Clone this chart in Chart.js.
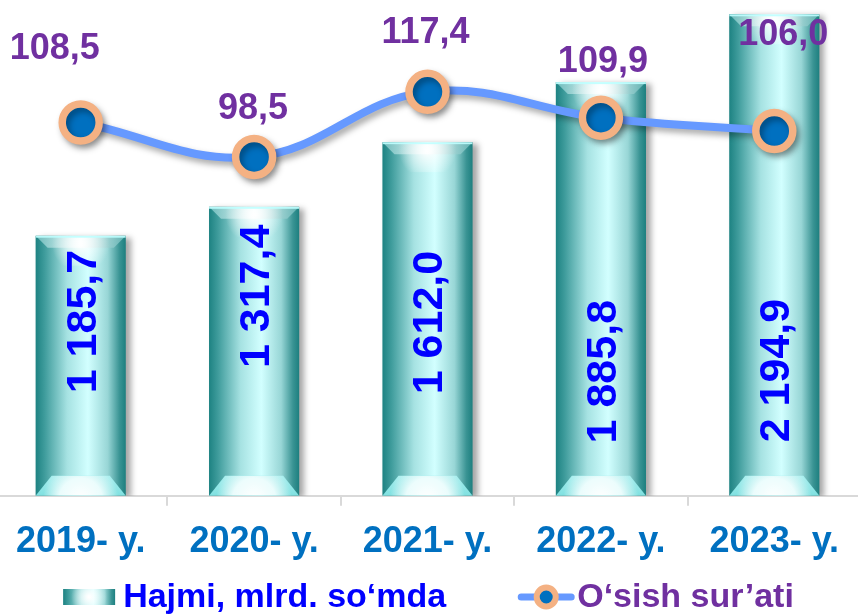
<!DOCTYPE html>
<html>
<head>
<meta charset="utf-8">
<script src="https://cdn.jsdelivr.net/npm/chart.js@4.4.1/dist/chart.umd.min.js"></script>
<style>
  html, body { margin: 0; padding: 0; background: #fff; overflow: hidden; }
  #wrap { position: relative; width: 867px; height: 614px; margin-left: -6px; }
</style>
</head>
<body>
<div id="wrap"><canvas id="myChart"></canvas></div>
<script>
'use strict';

// data
const years = ['2019- y.', '2020- y.', '2021- y.', '2022- y.', '2023- y.'];
const volume = [1185.7, 1317.4, 1612.0, 1885.8, 2194.9];
const growth = [108.5, 98.5, 117.4, 109.9, 106.0];
const seriesNames = ['Hajmi, mlrd. so‘mda', 'O‘sish sur’ati'];

// where the labels sit (style only)
const volLabelAt = [0.67, 0.69, 0.49, 0.30, 0.26]; // share of bar height, from base
const growthLabelShift = [[-26, -75], [-1, -50], [-2, -61], [2, -58], [9, -98]];

const FONT = 'Arial, "Liberation Sans", sans-serif';
const BAR_PCT = 0.52;

// 1185.7 -> "1 185,7"
function fmt(v) {
  const parts = v.toFixed(1).split('.');
  return parts[0].replace(/\B(?=(\d{3})+(?!\d))/g, ' ') + ',' + parts[1];
}

function tealGradient(ctx, l, r) {
  const g = ctx.createLinearGradient(l, 0, r, 0);
  g.addColorStop(0, '#1d8282');
  g.addColorStop(0.1, '#3f9c9c');
  g.addColorStop(0.35, '#a6e2e2');
  g.addColorStop(0.58, '#d2ffff');
  g.addColorStop(0.8, '#98d6d6');
  g.addColorStop(0.93, '#3a9494');
  g.addColorStop(1, '#1d7f7f');
  return g;
}

function barFill(c) {
  const x = c.chart.scales.x;
  if (!x || c.dataIndex === undefined) return '#8fd6d6';
  const cx = x.getPixelForValue(c.dataIndex);
  const w = (x.width / years.length) * BAR_PCT;
  if (!isFinite(cx) || !isFinite(w) || w <= 0) return '#8fd6d6';
  return tealGradient(c.chart.ctx, cx - w / 2, cx + w / 2);
}

// legend icons
function drawBarIcon(c, x, y) {
  c.save();
  c.fillStyle = tealGradient(c, x, x + 52);
  c.fillRect(x, y - 8, 52, 16);
  const rg = c.createRadialGradient(x + 26, y, 1, x + 26, y, 18);
  rg.addColorStop(0, 'rgba(255,255,255,1)');
  rg.addColorStop(1, 'rgba(255,255,255,0)');
  c.fillStyle = rg;
  c.fillRect(x, y - 8, 52, 16);
  c.restore();
}

function drawLineIcon(c, x, y) {
  c.save();
  c.strokeStyle = '#6699ff';
  c.lineWidth = 7;
  c.lineCap = 'round';
  c.beginPath(); c.moveTo(x + 4, y); c.lineTo(x + 54, y); c.stroke();
  c.beginPath(); c.arc(x + 29, y, 9.5, 0, Math.PI * 2);
  c.fillStyle = '#0070c0'; c.fill();
  c.lineWidth = 6; c.strokeStyle = '#f4b183'; c.stroke();
  c.restore();
}

const legendColors = ['#0000ff', '#7030a0'];

const decor = {
  id: 'decor',
  beforeDatasetDraw(chart, args) {
    const ctx = chart.ctx;
    ctx.save();
    ctx.shadowColor = 'rgba(0,0,0,0.35)';
    ctx.shadowBlur = 6;
    ctx.shadowOffsetX = args.index === 0 ? 5 : 3;
    ctx.shadowOffsetY = args.index === 0 ? 2 : 4;
  },
  afterDatasetDraw(chart, args) {
    const ctx = chart.ctx;
    ctx.restore();
    if (args.index !== 0) return;
    args.meta.data.forEach(el => {
      const p = el.getProps(['x', 'y', 'base', 'width'], true);
      if (![p.x, p.y, p.base, p.width].every(isFinite)) return;
      const l = p.x - p.width / 2, r = p.x + p.width / 2;

      ctx.save();
      ctx.beginPath();
      ctx.rect(l, p.y, p.width, p.base - p.y);
      ctx.clip();

      // top cap
      const th = 12;
      ctx.beginPath();
      ctx.moveTo(l, p.y); ctx.lineTo(r, p.y);
      ctx.lineTo(r - th, p.y + th); ctx.lineTo(l + th, p.y + th);
      ctx.closePath();
      const tg = ctx.createLinearGradient(l, 0, r, 0);
      tg.addColorStop(0, '#6cbaba');
      tg.addColorStop(0.5, '#f2ffff');
      tg.addColorStop(1, '#5fb0b0');
      ctx.fillStyle = tg;
      ctx.fill();
      let rg = ctx.createRadialGradient(p.x, p.y + 8, 1, p.x, p.y + 8, p.width * 0.32);
      rg.addColorStop(0, 'rgba(255,255,255,0.95)');
      rg.addColorStop(1, 'rgba(255,255,255,0)');
      ctx.fillStyle = rg;
      ctx.fillRect(l, p.y, p.width, 30);
      ctx.fillStyle = 'rgba(190,255,255,0.9)';
      ctx.fillRect(l, p.y, p.width, 2);

      // bottom cap
      const bh = 20;
      ctx.beginPath();
      ctx.moveTo(l, p.base); ctx.lineTo(r, p.base);
      ctx.lineTo(r - 16, p.base - bh); ctx.lineTo(l + 16, p.base - bh);
      ctx.closePath();
      const bg = ctx.createLinearGradient(0, p.base - bh, 0, p.base);
      bg.addColorStop(0, '#a8eeee');
      bg.addColorStop(1, '#7fe0e0');
      ctx.fillStyle = bg;
      ctx.fill();
      ctx.clip();
      rg = ctx.createRadialGradient(p.x, p.base + 4, 2, p.x, p.base + 4, p.width * 0.42);
      rg.addColorStop(0, 'rgba(255,255,255,1)');
      rg.addColorStop(0.55, 'rgba(245,255,255,0.9)');
      rg.addColorStop(1, 'rgba(255,255,255,0)');
      ctx.fillStyle = rg;
      ctx.fillRect(l, p.base - bh, p.width, bh);
      ctx.restore();
    });
  },
  afterDatasetsDraw(chart) {
    const ctx = chart.ctx;
    ctx.save();
    // bar values, turned up
    ctx.font = 'bold 43px ' + FONT;
    ctx.fillStyle = '#0000ff';
    ctx.textAlign = 'center';
    ctx.textBaseline = 'middle';
    chart.getDatasetMeta(0).data.forEach((el, i) => {
      const p = el.getProps(['x', 'y', 'base'], true);
      const cy = p.base - (p.base - p.y) * volLabelAt[i];
      ctx.save();
      ctx.translate(p.x + 1, cy);
      ctx.rotate(-Math.PI / 2);
      ctx.fillText(fmt(volume[i]), 0, 2);
      ctx.restore();
    });
    // growth values
    ctx.font = 'bold 36px ' + FONT;
    ctx.fillStyle = '#7030a0';
    chart.getDatasetMeta(1).data.forEach((el, i) => {
      const s = growthLabelShift[i];
      ctx.fillText(fmt(growth[i]), el.x + s[0], el.y + s[1] + 2);
    });
    ctx.restore();
  },
  afterDraw(chart) {
    // legend row under the axis
    const ctx = chart.ctx;
    ctx.save();
    ctx.font = 'bold 34px ' + FONT;
    ctx.textBaseline = 'middle';
    ctx.textAlign = 'left';
    const w1 = ctx.measureText(seriesNames[0]).width;
    const w2 = ctx.measureText(seriesNames[1]).width;
    const total = 52 + 8 + w1 + 71 + 58 + 2 + w2;
    let x = chart.width / 2 - total / 2 + 1;
    const y = 597;
    drawBarIcon(ctx, x, y);
    x += 60;
    ctx.fillStyle = legendColors[0];
    ctx.fillText(seriesNames[0], x, y + 1);
    x += w1 + 71;
    drawLineIcon(ctx, x, y);
    x += 60;
    ctx.fillStyle = legendColors[1];
    ctx.fillText(seriesNames[1], x, y + 1);
    ctx.restore();
  }
};

const ctx = document.getElementById('myChart').getContext('2d');

new Chart(ctx, {
  data: {
    labels: years,
    datasets: [
      {
        type: 'bar',
        label: seriesNames[0],
        data: volume,
        yAxisID: 'y',
        order: 1,
        backgroundColor: barFill,
        borderWidth: 0,
        barPercentage: BAR_PCT,
        categoryPercentage: 1
      },
      {
        type: 'line',
        label: seriesNames[1],
        data: growth,
        yAxisID: 'y2',
        order: 0,
        borderColor: '#6699ff',
        borderWidth: 8,
        tension: 0.4,
        pointRadius: 18.5,
        pointBorderWidth: 7.5,
        pointBackgroundColor: '#0070c0',
        pointBorderColor: '#f4b183'
      }
    ]
  },
  options: {
    responsive: true,
    maintainAspectRatio: false,
    animation: false,
    events: [],
    layout: { autoPadding: false, padding: { left: 0, right: 0, top: 0, bottom: 35 } },
    plugins: {
      tooltip: { enabled: false },
      legend: { display: false }
    },
    scales: {
      x: {
        offset: true,
        afterFit(scale) {
          scale.paddingLeft = 0;
          scale.paddingRight = 0;
        },
        border: { display: true, color: '#d9d9d9', width: 2 },
        grid: {
          display: true,
          drawOnChartArea: false,
          drawTicks: true,
          tickLength: 10,
          color: '#d9d9d9',
          lineWidth: 2
        },
        ticks: {
          color: '#0070c0',
          padding: 15,
          maxRotation: 0,
          autoSkip: false,
          font: { family: FONT, size: 36, weight: 'bold' }
        }
      },
      y: { display: false, min: 0, max: 2260 },
      y2: { display: false, min: 0, max: 144.1 }
    }
  },
  plugins: [decor]
});
</script>
</body>
</html>
